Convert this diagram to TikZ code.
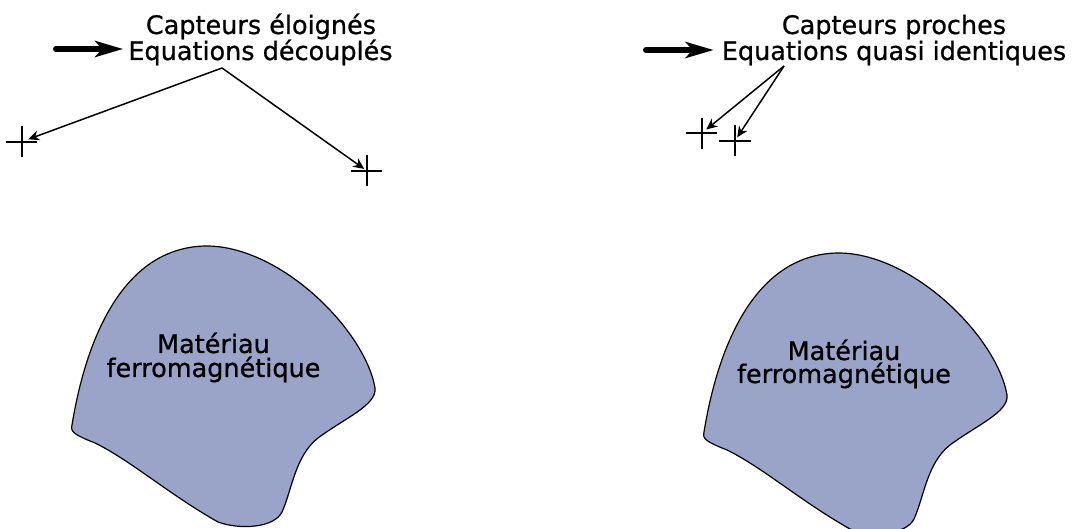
\documentclass[tikz,border=0pt]{standalone}
\usepackage{fontspec}
\setmainfont{DejaVu Sans}
\newfontfamily\heavyfont{DejaVu Sans}[FakeBold=0.8]
\usetikzlibrary{arrows.meta,shapes.misc}
\definecolor{blobfill}{RGB}{153,164,200}
\tikzset{
  lbl/.style={anchor=base, inner sep=0pt, font=\heavyfont\fontsize{25.5}{26}\selectfont},
  sensor/.style={cross out, draw, rotate=45, minimum size=20pt, inner sep=0pt, line width=2pt},
  conn/.style={line width=1.5pt, -{Stealth[length=11pt,width=10pt,inset=3.5pt]}},
  bigarrow/.style={line width=6pt, line cap=round, -{Stealth[length=28pt,width=16pt,inset=7pt]}},
  blob/.style={draw=black, line width=1.2pt, fill=blobfill},
}
\newcommand{\blobshape}{(72,425)
 .. controls (85,345) and (120,248) .. (205,246)
 .. controls (280,245) and (365,330) .. (375,388)
 .. controls (377,405) and (345,418) .. (318,438)
 .. controls (295,456) and (292,490) .. (282,512)
 .. controls (274,528) and (240,530) .. (218,522)
 .. controls (170,495) and (130,460) .. (95,443)
 .. controls (75,435) and (70,432) .. cycle}
\begin{document}
\begin{tikzpicture}[x=1pt,y=-1pt]
\useasboundingbox (0,0) rectangle (1072,529);
% left panel
\node[lbl] (capL) at (261,34) {Capteurs éloignés};
\node[lbl] (eqL) at (260.5,60) {Equations découplés};
\coordinate (apexL) at (222,68);
\coordinate (tailL) at (56,49);
\draw[bigarrow, shorten >=5pt] (tailL) -- (tailL -| eqL.west);
\node[sensor] (sA) at (21.7,141.7) {};
\node[sensor] (sB) at (366.7,170.7) {};
\draw[conn, shorten >=7pt] (apexL) -- (sA.center);
\draw[conn, shorten >=3pt] (apexL) -- (sB.center);
\draw[blob] \blobshape;
\node[lbl] (matL1) at (213.5,353) {Matériau};
\node[lbl] (matL2) at (213.5,377) {ferromagnétique};
% right panel
\node[lbl] (capR) at (894,34) {Capteurs proches};
\node[lbl] (eqR) at (894,60) {Equations quasi identiques};
\coordinate (apexR) at (784,66);
\coordinate (tailR) at (646,50);
\draw[bigarrow, shorten >=8pt] (tailR) -- (tailR -| eqR.west);
\node[sensor] (sC) at (701.7,133.3) {};
\node[sensor] (sD) at (735,140.7) {};
\draw[conn, shorten >=6pt] (apexR) -- (sC.center);
\draw[conn, shorten >=4pt] (apexR) -- (sD.center);
\begin{scope}[shift={(632,7)}]
\draw[blob] \blobshape;
\end{scope}
\node[lbl] (matR1) at (844,360) {Matériau};
\node[lbl] (matR2) at (844,383) {ferromagnétique};
\end{tikzpicture}
\end{document}
